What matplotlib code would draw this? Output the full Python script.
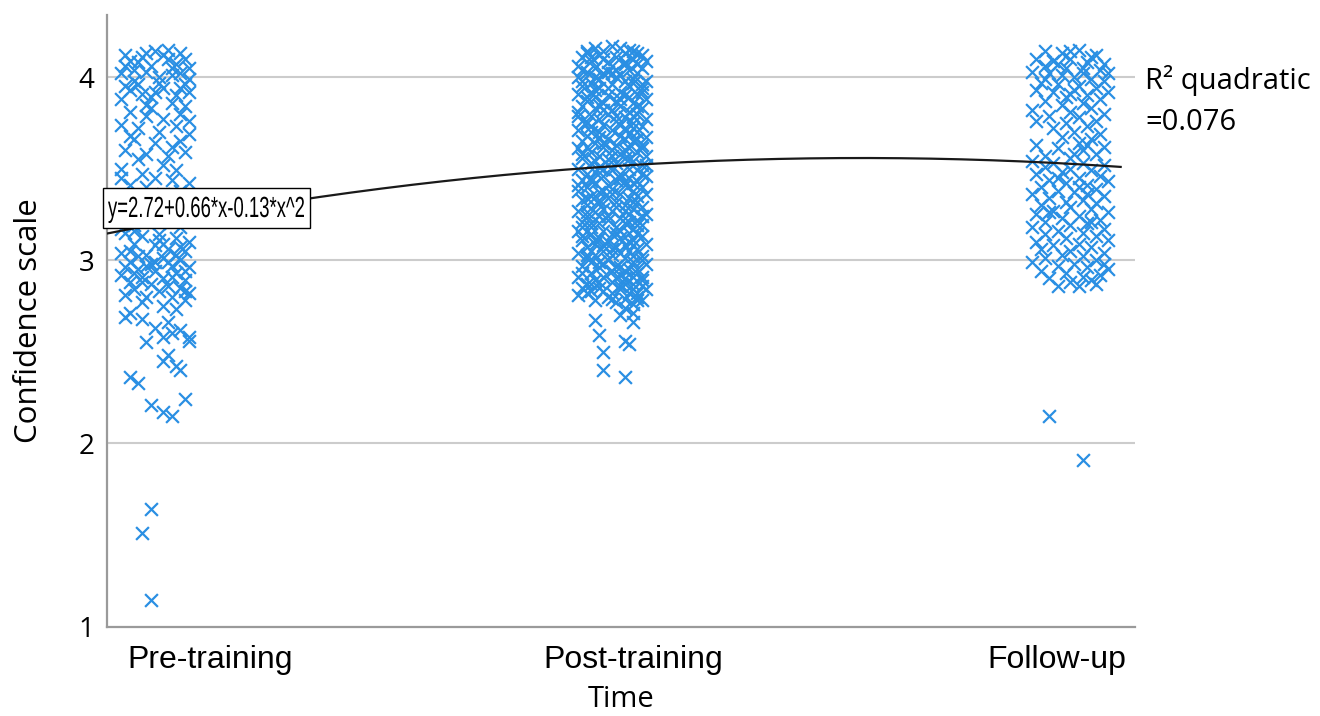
import numpy as np
import matplotlib
matplotlib.use("Agg")
import matplotlib.pyplot as plt
from matplotlib.font_manager import FontProperties
from matplotlib.patches import PathPatch, Rectangle
from matplotlib.textpath import TextPath
from matplotlib.transforms import Affine2D

# category positions on the time axis
time_labels = ["Pre-training", "Post-training", "Follow-up"]
time_pos = [1, 2, 3]
column_x = [0.870, 1.949, 3.031]

# quadratic fit reported for the scatter
fit_coef = [2.72, 0.66, -0.13]
fit_r2 = 0.076

# (horizontal jitter, confidence score) per respondent
pre_points = [
    (-0.07, 4.12), (-0.04, 4.08), (0.00, 4.14), (0.03, 4.10), (0.06, 4.13), (0.08, 4.05),
    (-0.08, 4.02), (-0.05, 3.98), (-0.02, 4.03), (0.01, 3.97), (0.04, 4.01), (0.07, 3.96),
    (-0.06, 3.93), (-0.03, 3.91), (0.02, 3.94), (0.05, 3.90), (0.08, 3.99), (-0.01, 4.06),
    (0.05, 4.07), (-0.07, 3.95), (0.03, 4.15), (-0.03, 4.11), (0.06, 4.02), (-0.05, 4.04),
    (0.00, 3.92), (0.08, 3.92), (-0.08, 3.88), (0.04, 3.86), (-0.02, 3.85), (0.07, 3.84),
    (-0.06, 4.09), (0.02, 4.12), (-0.04, 3.96), (0.07, 4.10), (0.01, 4.00),
    (-0.02, 4.13), (0.04, 4.05), (-0.07, 4.06), (0.06, 3.94), (-0.01, 3.89),
    (-0.06, 3.81), (-0.02, 3.79), (0.02, 3.77), (0.06, 3.80), (-0.08, 3.74), (-0.04, 3.72),
    (0.01, 3.70), (0.05, 3.73), (0.08, 3.69), (-0.05, 3.66), (0.00, 3.64), (0.04, 3.62),
    (-0.07, 3.60), (-0.02, 3.58), (0.03, 3.57), (0.07, 3.59), (-0.04, 3.55), (0.06, 3.65),
    (-0.01, 3.83), (0.08, 3.76), (-0.06, 3.68), (0.02, 3.52), (-0.08, 3.50), (0.05, 3.49),
    (-0.03, 3.47),
    (0.00, 3.45), (0.04, 3.44), (0.08, 3.42), (-0.06, 3.41), (-0.02, 3.40), (0.06, 3.38),
    (-0.08, 3.45), (0.02, 3.36), (-0.05, 3.34), (0.07, 3.33), (-0.01, 3.31), (0.03, 3.29),
    (-0.07, 3.27), (0.05, 3.25), (-0.03, 3.23), (0.08, 3.22), (0.01, 3.20), (-0.05, 3.19),
    (0.06, 3.18), (-0.08, 3.17),
    (-0.07, 3.15), (-0.03, 3.13), (0.01, 3.14), (0.05, 3.12), (0.08, 3.10), (-0.05, 3.09),
    (0.00, 3.08), (0.03, 3.06), (0.07, 3.05), (-0.08, 3.04), (-0.02, 3.03), (0.02, 3.01),
    (0.06, 3.00), (-0.06, 2.99), (-0.01, 2.98), (0.04, 2.97), (0.08, 2.96), (-0.04, 2.95),
    (0.00, 2.94), (0.05, 2.93), (-0.08, 2.92), (-0.03, 2.91), (0.02, 2.90), (0.07, 2.89),
    (-0.06, 2.88), (-0.01, 2.87), (0.03, 2.86), (0.06, 2.85), (-0.05, 2.84), (0.01, 2.83),
    (0.08, 2.82), (-0.07, 2.81), (-0.02, 2.80), (0.04, 2.80), (-0.04, 3.02), (0.03, 2.99),
    (-0.07, 2.96), (0.06, 3.07), (0.01, 3.11), (-0.05, 3.16), (0.04, 2.91), (-0.02, 2.97),
    (0.07, 2.94), (-0.06, 3.05), (0.02, 3.09), (-0.03, 2.88), (0.05, 3.03), (0.00, 2.99),
    (0.07, 2.83), (-0.05, 2.93),
    (0.07, 2.78), (-0.03, 2.77), (0.02, 2.75), (0.05, 2.73), (-0.06, 2.71), (-0.07, 2.69),
    (-0.03, 2.68), (0.03, 2.66), (0.00, 2.63), (0.06, 2.62), (0.04, 2.60), (0.08, 2.58),
    (0.02, 2.58), (0.08, 2.56), (-0.02, 2.55),
    (0.03, 2.48), (0.02, 2.45), (0.05, 2.42), (0.06, 2.40), (-0.06, 2.36), (-0.04, 2.33),
    (-0.01, 2.21), (0.02, 2.17), (0.04, 2.15), (0.07, 2.24), (-0.01, 1.64), (-0.03, 1.51),
    (-0.01, 1.14),
]

post_points = [
    (-0.04, 4.16), (0.00, 4.17), (0.04, 4.15), (-0.02, 4.14), (0.02, 4.16), (0.06, 4.13),
    (-0.06, 4.13), (-0.07, 4.11), (-0.03, 4.12), (0.01, 4.11), (0.05, 4.10), (0.08, 4.09),
    (-0.05, 4.09), (-0.01, 4.08), (0.03, 4.08), (0.07, 4.12),
    (-0.08, 4.06), (-0.04, 4.05), (0.00, 4.06), (0.04, 4.04), (0.07, 4.05), (-0.06, 4.03),
    (-0.02, 4.02), (0.02, 4.01), (0.06, 4.02), (-0.08, 4.00), (-0.03, 3.99), (0.01, 4.00),
    (0.05, 3.99), (0.08, 3.98), (-0.05, 3.97), (0.03, 4.07), (-0.01, 4.03),
    (0.00, 3.96), (0.04, 3.95), (-0.07, 3.95), (-0.03, 3.94), (0.07, 3.94), (-0.05, 3.92),
    (0.02, 3.92), (0.06, 3.91), (-0.08, 3.91), (-0.01, 3.90), (0.04, 3.89), (-0.04, 3.89),
    (0.08, 3.88), (0.01, 3.87), (-0.06, 3.87),
    (-0.02, 3.86), (0.05, 3.86), (-0.07, 3.84), (0.02, 3.84), (0.07, 3.83), (-0.04, 3.83),
    (0.00, 3.82), (0.04, 3.81), (-0.08, 3.81), (-0.01, 3.80), (0.06, 3.80), (-0.05, 3.79),
    (0.03, 3.78), (0.08, 3.77), (-0.03, 3.77),
    (-0.07, 3.76), (0.01, 3.76), (0.05, 3.75), (-0.02, 3.74), (0.07, 3.73), (-0.05, 3.73),
    (0.03, 3.72), (-0.08, 3.71), (0.00, 3.71), (0.06, 3.70), (-0.03, 3.70), (0.04, 3.69),
    (-0.06, 3.68), (0.02, 3.68), (0.08, 3.67),
    (-0.01, 3.66), (-0.07, 3.65), (0.05, 3.65), (-0.04, 3.64), (0.01, 3.63), (0.07, 3.63),
    (-0.02, 3.62), (0.04, 3.61), (-0.08, 3.61), (0.00, 3.60), (-0.05, 3.59), (0.06, 3.59),
    (0.02, 3.58), (-0.03, 3.57), (0.08, 3.57),
    (-0.07, 3.56), (0.03, 3.56), (-0.01, 3.55), (0.05, 3.54), (-0.05, 3.53), (0.01, 3.53),
    (0.07, 3.52), (-0.03, 3.51), (-0.08, 3.50), (0.04, 3.50), (0.00, 3.49), (0.06, 3.49),
    (-0.04, 3.48), (0.02, 3.47), (-0.06, 3.47),
    (0.08, 3.46), (-0.02, 3.46), (0.04, 3.45), (-0.07, 3.44), (0.01, 3.44), (0.06, 3.43),
    (-0.04, 3.42), (-0.01, 3.41), (0.03, 3.41), (0.07, 3.40), (-0.06, 3.40), (0.00, 3.39),
    (-0.08, 3.38), (0.05, 3.38), (-0.03, 3.37),
    (0.02, 3.36), (0.08, 3.36), (-0.05, 3.35), (-0.01, 3.34), (0.04, 3.34), (-0.07, 3.33),
    (0.06, 3.32), (0.01, 3.32), (-0.03, 3.31), (0.03, 3.30), (-0.06, 3.30), (0.07, 3.29),
    (-0.02, 3.28), (0.05, 3.28), (-0.08, 3.27),
    (0.00, 3.27), (-0.04, 3.26), (0.04, 3.25), (0.08, 3.25), (-0.06, 3.24), (0.02, 3.23),
    (-0.01, 3.22), (0.06, 3.22), (-0.07, 3.21), (0.03, 3.20), (-0.03, 3.20), (0.07, 3.19),
    (-0.05, 3.18), (0.01, 3.18), (0.05, 3.17),
    (-0.08, 3.16), (-0.02, 3.16), (0.04, 3.15), (-0.05, 3.14), (0.00, 3.14), (0.07, 3.13),
    (-0.03, 3.12), (0.02, 3.12), (-0.07, 3.11), (0.05, 3.11), (-0.01, 3.10), (0.08, 3.09),
    (-0.04, 3.09), (0.03, 3.08), (-0.06, 3.07),
    (0.01, 3.07), (0.06, 3.06), (-0.02, 3.05), (0.04, 3.05), (-0.08, 3.04), (-0.04, 3.03),
    (0.00, 3.03), (0.07, 3.02), (-0.06, 3.01), (0.03, 3.01), (-0.01, 3.00), (0.05, 2.99),
    (-0.05, 2.99), (0.08, 2.98), (0.01, 2.97),
    (-0.07, 2.97), (-0.03, 2.96), (0.04, 2.95), (0.00, 2.94), (-0.05, 2.93), (0.06, 2.93),
    (0.02, 2.92), (-0.08, 2.91), (-0.02, 2.91), (0.03, 2.90), (0.07, 2.89), (-0.04, 2.89),
    (0.00, 2.88), (0.05, 2.87), (-0.06, 2.87),
    (-0.07, 2.85), (-0.03, 2.85), (0.02, 2.84), (0.08, 2.84), (-0.05, 2.83), (0.00, 2.82),
    (0.04, 2.82), (-0.08, 2.81), (-0.01, 2.80), (0.06, 2.80), (0.03, 2.79), (-0.04, 2.78),
    (0.01, 2.77), (0.05, 2.76), (0.07, 2.78),
    # second pass through the dense part of the column
    (-0.06, 4.14), (0.03, 4.13), (-0.02, 4.10), (0.06, 4.07), (-0.07, 4.04), (0.01, 4.04),
    (-0.04, 4.00), (0.05, 3.97), (-0.01, 3.94), (0.07, 3.92), (-0.06, 3.89), (0.02, 3.88),
    (-0.03, 3.85), (0.06, 3.84), (-0.08, 3.79), (0.01, 3.79), (0.05, 3.72), (-0.05, 3.70),
    (0.03, 3.66), (-0.02, 3.64), (0.07, 3.61), (-0.06, 3.62), (0.00, 3.57), (0.04, 3.55),
    (-0.04, 3.54), (0.08, 3.52), (-0.02, 3.50), (0.02, 3.45), (-0.05, 3.43), (0.05, 3.42),
    (-0.08, 3.41), (0.00, 3.36), (0.06, 3.35), (-0.03, 3.33), (0.03, 3.27), (-0.06, 3.26),
    (0.07, 3.24), (-0.01, 3.24), (0.04, 3.21), (-0.05, 3.20), (0.01, 3.15), (0.06, 3.14),
    (-0.07, 3.13), (-0.02, 3.08), (0.05, 3.08), (0.02, 3.04), (-0.05, 3.05), (0.07, 3.00),
    (-0.02, 2.98), (0.03, 2.94), (-0.07, 2.93), (0.01, 2.90), (0.05, 2.91), (-0.03, 2.88),
    (0.02, 2.86), (-0.06, 2.82), (0.05, 2.84), (0.00, 2.79),
    # third pass, filling the gaps
    (-0.05, 4.11), (0.05, 4.14), (0.00, 4.02), (-0.07, 3.98), (0.03, 3.98), (0.07, 3.96),
    (-0.04, 3.93), (0.03, 3.90), (-0.02, 3.82), (0.05, 3.79), (-0.06, 3.75), (0.02, 3.74),
    (-0.03, 3.67), (0.06, 3.66), (-0.07, 3.58), (0.03, 3.60), (-0.01, 3.52), (0.07, 3.47),
    (-0.05, 3.45), (0.03, 3.43), (-0.02, 3.38), (0.05, 3.32), (-0.06, 3.34), (0.01, 3.29),
    (-0.03, 3.24), (0.06, 3.19), (-0.07, 3.18), (0.02, 3.16), (-0.04, 3.11), (0.04, 3.10),
    (0.00, 3.06), (-0.06, 3.03), (0.05, 3.02), (-0.03, 2.99), (0.02, 2.96), (0.07, 2.91),
    (-0.05, 2.87), (0.03, 2.87), (-0.02, 2.83), (0.06, 2.82),
    (0.06, 2.95), (0.07, 2.86), (0.06, 2.78), (0.03, 2.74), (0.05, 2.71), (0.02, 2.70),
    (-0.04, 2.67), (0.05, 2.66), (-0.03, 2.59), (0.03, 2.56), (0.04, 2.54), (-0.02, 2.50),
    (-0.02, 2.40), (0.03, 2.36),
]

follow_points = [
    (-0.06, 4.14), (-0.02, 4.13), (0.02, 4.15), (0.06, 4.12), (-0.08, 4.10), (-0.04, 4.09),
    (0.00, 4.10), (0.04, 4.08), (0.08, 4.07), (-0.06, 4.06), (-0.01, 4.05), (0.03, 4.05),
    (0.07, 4.04), (0.09, 4.02), (0.00, 4.14), (-0.03, 4.07), (0.05, 4.11),
    (-0.09, 4.03), (-0.05, 4.02), (-0.02, 4.01), (0.01, 4.00), (0.05, 3.99), (0.08, 3.98),
    (-0.07, 3.97), (-0.03, 3.96), (0.02, 3.95), (0.06, 3.94), (-0.08, 3.93), (-0.04, 3.92),
    (0.00, 3.91), (0.04, 3.90), (0.09, 3.92), (-0.01, 3.89), (0.07, 3.88), (0.03, 4.02),
    (-0.06, 3.99), (0.01, 3.93),
    (-0.06, 3.87), (0.03, 3.86), (-0.02, 3.85), (0.05, 3.83), (-0.09, 3.82), (0.00, 3.81),
    (0.08, 3.80), (-0.05, 3.79), (0.02, 3.78), (-0.08, 3.76), (0.06, 3.76), (-0.01, 3.75),
    (0.04, 3.73), (-0.04, 3.72), (0.01, 3.70), (0.07, 3.69), (-0.02, 3.67), (0.05, 3.66),
    (0.02, 3.64), (-0.08, 3.63), (0.08, 3.62), (-0.03, 3.61), (0.03, 3.60), (0.06, 3.58),
    (-0.06, 3.57), (0.00, 3.56), (0.04, 3.63), (0.01, 3.58),
    (-0.09, 3.54), (-0.04, 3.53), (0.03, 3.53), (0.08, 3.52), (-0.06, 3.51), (0.00, 3.50),
    (0.05, 3.49), (-0.02, 3.48), (-0.08, 3.47), (0.07, 3.46), (0.02, 3.45), (-0.05, 3.44),
    (0.09, 3.43), (-0.01, 3.42), (0.04, 3.41), (-0.07, 3.40), (0.06, 3.39), (-0.03, 3.38),
    (0.01, 3.37), (-0.09, 3.36), (0.08, 3.35), (-0.05, 3.34), (0.03, 3.33), (-0.01, 3.32),
    (0.06, 3.31), (-0.07, 3.30), (0.04, 3.36), (-0.03, 3.45), (0.02, 3.40),
    (0.00, 3.29), (0.05, 3.28), (-0.04, 3.27), (0.09, 3.26), (-0.08, 3.25), (0.02, 3.24),
    (-0.02, 3.23), (0.07, 3.22), (-0.06, 3.21), (0.04, 3.20), (0.00, 3.19), (-0.09, 3.18),
    (0.08, 3.17), (-0.03, 3.16), (0.03, 3.15), (-0.06, 3.14), (0.06, 3.13), (-0.01, 3.12),
    (0.09, 3.11), (-0.08, 3.10), (0.05, 3.21), (-0.05, 3.26),
    (0.02, 3.09), (-0.04, 3.08), (0.05, 3.07), (-0.07, 3.06), (0.00, 3.05), (0.08, 3.04),
    (-0.02, 3.03), (0.03, 3.02), (-0.06, 3.01), (0.06, 3.00), (-0.09, 2.99), (0.01, 2.98),
    (-0.03, 2.97), (0.04, 2.96), (0.09, 2.95), (-0.07, 2.94), (-0.01, 2.93), (0.07, 2.92),
    (0.03, 2.91), (-0.05, 2.90), (0.05, 2.89), (0.00, 2.88), (0.02, 2.86), (0.06, 2.87),
    (-0.03, 2.86), (0.08, 2.98),
    (-0.05, 2.15), (0.03, 1.91),
]

blue = "#2a8fe3"
grid_grey = "#cccccc"
axis_grey = "#9a9a9a"
label_font = ["Open Sans", "DejaVu Sans"]
cat_font = ["Liberation Sans", "DejaVu Sans"]

W, H = 1320, 716
fig = plt.figure(figsize=(W / 100, H / 100), dpi=100)
ax = fig.add_axes([0.0811, 0.1243, 0.7788, 0.8547])

for cx, pts in zip(column_x, [pre_points, post_points, follow_points]):
    dx, y = zip(*pts)
    ax.scatter(cx + np.array(dx), y, marker="x", s=85, linewidths=1.6,
               color=blue, zorder=3)

xlo, xhi = 0.757, 3.184
ax.set_xlim(xlo, xhi)
ax.set_ylim(0.995, 4.339)

# quadratic fit curve
xs = np.linspace(xlo, 3.15, 300)
ys = fit_coef[0] + fit_coef[1] * xs + fit_coef[2] * xs ** 2
ax.plot(xs, ys, color="#1a1a1a", lw=1.6, zorder=4)

ax.set_yticks([1, 2, 3, 4])
ax.set_yticklabels(["1", "2", "3", "4"], family=label_font, fontsize=20)
ax.set_xticks(time_pos)
ax.set_xticklabels(time_labels, family=cat_font, fontsize=23)
ax.tick_params(axis="y", length=0, pad=9)
ax.tick_params(axis="x", length=0, pad=13)
for y in [2, 3, 4]:
    ax.axhline(y, color=grid_grey, lw=1.5, zorder=1)

for side in ["top", "right"]:
    ax.spines[side].set_visible(False)
for side in ["left", "bottom"]:
    ax.spines[side].set_color(axis_grey)
    ax.spines[side].set_linewidth(1.6)

ax.set_ylabel("Confidence scale", family=label_font, fontsize=22.5, labelpad=25)
ax.set_xlabel("Time", family=label_font, fontsize=21, labelpad=7)

# equation label: narrow lettering inside a white box over the curve
box_x0, box_x1, box_y0, box_y1 = 103, 310, 188, 228
fig.add_artist(Rectangle((box_x0 / W, 1 - box_y1 / H), (box_x1 - box_x0) / W,
                         (box_y1 - box_y0) / H, transform=fig.transFigure,
                         fc="white", ec="black", lw=1.0, zorder=10))
eq_text = "y=2.72+0.66*x-0.13*x^2"
eq_path = TextPath((0, 0), eq_text, size=21,
                   prop=FontProperties(family=cat_font))
ext = eq_path.get_extents()
sx = 196 / (ext.width * 100 / 72)
eq_tf = (Affine2D().translate(-ext.x0, 0).scale(sx / 72, 1 / 72)
         .translate(108 / 100, (H - 217) / 100) + fig.dpi_scale_trans)
fig.add_artist(PathPatch(eq_path, transform=eq_tf, fc="black", ec="none",
                         zorder=11))

fig.text(1145 / W, 1 - 80 / H, "R\u00b2 quadratic", family=label_font,
         fontsize=21, ha="left", va="center")
fig.text(1145 / W, 1 - 122 / H, f"={fit_r2:.3f}", family=label_font,
         fontsize=21, ha="left", va="center")

fig.savefig("out.png", dpi=100)
